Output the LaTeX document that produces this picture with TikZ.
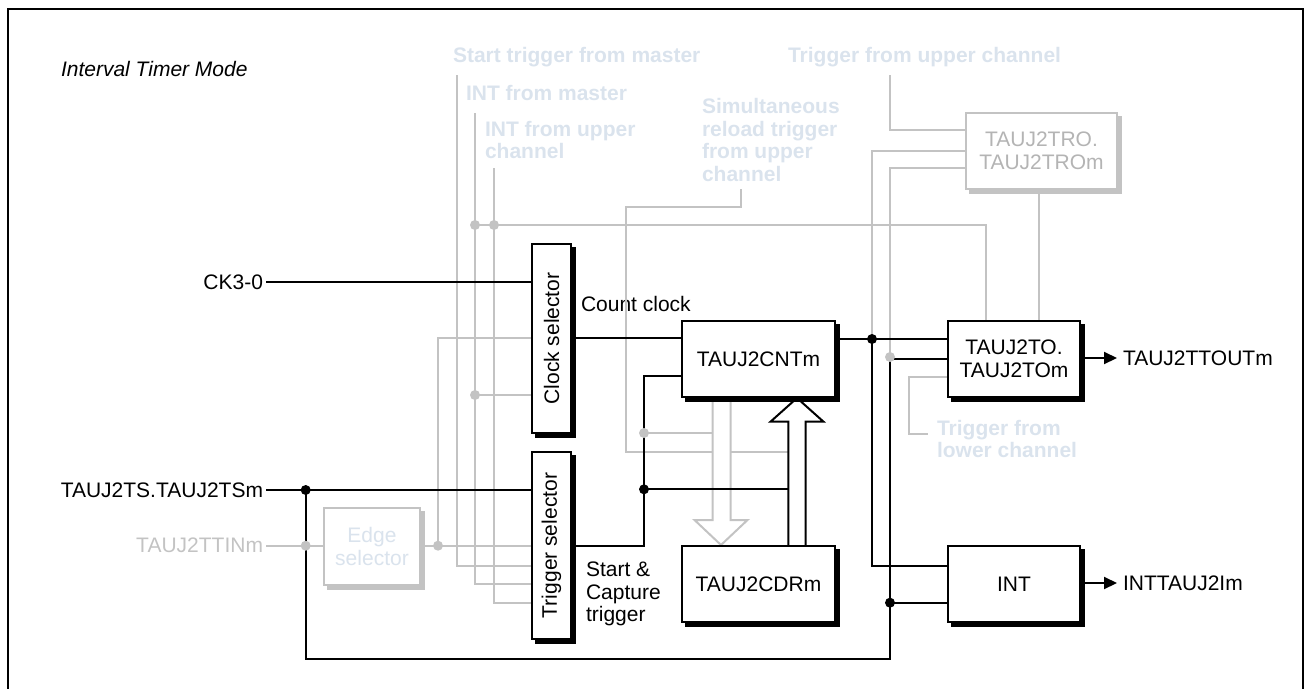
\documentclass[tikz,border=0pt]{standalone}
\usepackage{fontspec}
\setmainfont{Liberation Sans}
\usetikzlibrary{shadows,arrows.meta}
\definecolor{wire}{HTML}{C3C3C3}
\definecolor{faint}{HTML}{DAE3ED}
\definecolor{grtext}{HTML}{B4B4B4}
\begin{document}
\begin{tikzpicture}[x=1pt,y=-1pt,
  every node/.style={inner sep=0pt, outer sep=0pt, font=\fontsize{21}{23}\selectfont},
  bw/.style={line width=2pt, black},
  gw/.style={line width=2pt, wire},
  blk/.style={draw=black, line width=2pt, fill=white, align=center,
     general shadow={fill=black, draw=black, line width=2pt, shadow xshift=3.5pt, shadow yshift=-3.5pt}},
  gbx/.style={draw=wire, line width=2pt, fill=white, align=center,
     general shadow={fill=wire, draw=wire, line width=2pt, shadow xshift=3.5pt, shadow yshift=-3.5pt}},
  lab/.style={anchor=base west},
  flab/.style={anchor=base west, text=faint, font=\fontsize{21}{23}\selectfont\bfseries},
  bdot/.style={circle, fill=black, minimum size=10pt},
  gdot/.style={circle, fill=wire, minimum size=10pt},
  outarrow/.style={bw, -{Triangle[length=13pt,width=12pt]}},
]
\useasboundingbox (0,0) rectangle (1311,688);
% frame
\draw[line width=2pt] (8,690) -- (8,8.5) -- (1303,8.5) -- (1303,690);

% ---------- labels (outside boxes) ----------
\node[lab, font=\fontsize{21}{23}\selectfont\itshape] (title) at (61,76) {Interval Timer Mode};
\node[flab] (stm) at (453,62.5) {Start trigger from master};
\node[flab] (tuc) at (788,62.5) {Trigger from upper channel};
\node[flab] (ifm) at (466,100) {INT from master};
\node[flab] (iuc1) at (485,136) {INT from upper};
\node[flab] (iuc2) at (485,158) {channel};
\node[flab] (sim1) at (702,113.5) {Simultaneous};
\node[flab] (sim2) at (702,136) {reload trigger};
\node[flab] (sim3) at (702,158.7) {from upper};
\node[flab] (sim4) at (702,181.5) {channel};
\node[flab] (tlc1) at (937,435) {Trigger from};
\node[flab] (tlc2) at (937,457) {lower channel};
\node[lab] (ccl) at (581,311) {Count clock};
\node[lab] (sc1) at (586,576.7) {Start \&};
\node[lab] (sc2) at (586,599.3) {Capture};
\node[lab] (sc3) at (586,621.7) {trigger};

\node[anchor=east, inner xsep=3pt] (ck) at (266,282) {CK3-0};
\node[anchor=east, inner xsep=3pt] (ts) at (266,490) {TAUJ2TS.TAUJ2TSm};
\node[anchor=east, inner xsep=3pt, text=wire] (ttin) at (266,545.7) {TAUJ2TTINm};
\node[anchor=west, inner xsep=6pt] (tto) at (1117,358) {TAUJ2TTOUTm};
\node[anchor=west, inner xsep=6pt] (intl) at (1117,583) {INTTAUJ2Im};

% ---------- grey wires ----------
\draw[gw] (456.7,75) |- (532,565.7);
\draw[gw] (475,113) |- (532,584);
\draw[gw] (494,168) |- (532,603.3);
\draw[gw] (475,225) -| (986,321);
\draw[gw] (475,395) -- (532,395);
\draw[gw] (ttin.east) -- (324,545.7);
\draw[gw] (420,545.7) -- (532,545.7);
\draw[gw] (438,545.7) |- (532,337.7);
\draw[gw] (741,189) |- (626,207) |- (788.3,452);
\draw[gw] (644,433) -- (712.7,433);
\draw[gw] (890,75) |- (966,130);
\draw[gw] (966,150.7) -| (872,339);
\draw[gw] (966,168) -| (890,357);
\draw[gw] (1039,189) -- (1039,321);
\draw[gw] (948,376.7) -| (909,434) -- (928,434);
\foreach \p in {(475,225),(494,225),(475,395),(438,545.7)} \node[gdot] at \p {};

% grey hollow arrow CNT -> CDR
\draw[gw, fill=white] (712.7,397) -- (712.7,520) -- (694.5,520) -- (721,545) -- (747.5,520) -- (730.7,520) -- (730.7,397);

% ---------- black wires ----------
\draw[bw] (ck.east) -- (532,282);
\draw[bw] (ts.east) -- (532,490);
\draw[bw] (571,337.7) -- (682,337.7);
\draw[bw] (571,545.7) -| (644,376) -- (682,376);
\draw[bw] (644,489.3) -- (788.3,489.3);
\draw[bw] (835,339) -- (948,339);
\draw[bw] (872,339) |- (948,565.7);
\draw[bw] (305.7,490) |- (890,659) |- (948,359);
\draw[bw] (890,602.7) -- (948,602.7);
\foreach \p in {(305.7,490),(644,489.3),(872,339),(890,602.7)} \node[bdot] at \p {};
\foreach \p in {(305.7,545.7),(644,433),(890,357)} \node[gdot] at \p {};

% black hollow arrow CDR -> CNT
\draw[bw, fill=white] (788.3,546) -- (788.3,421.7) -- (770.5,421.7) -- (797,398) -- (823.5,421.7) -- (805.7,421.7) -- (805.7,546);

% ---------- boxes ----------
\node[blk, minimum width=39pt, minimum height=189pt] (clk) at (551.5,338.5) {};
\node[rotate=90] (clkt) at (clk.center) {Clock selector};
\node[blk, minimum width=39pt, minimum height=187pt] (trg) at (551.5,545.5) {};
\node[rotate=90] (trgt) at (trg.center) {Trigger selector};
\node[blk, minimum width=153pt, minimum height=76pt] (cnt) at (758.5,359) {TAUJ2CNTm};
\node[blk, minimum width=153pt, minimum height=76pt] (cdr) at (758.5,584) {TAUJ2CDRm};
\node[blk, minimum width=132pt, minimum height=76pt] (tob) at (1014,359) {TAUJ2TO.\\TAUJ2TOm};
\node[blk, minimum width=132pt, minimum height=76pt] (intb) at (1014,584) {INT};
\node[gbx, minimum width=151pt, minimum height=76pt, text=grtext] (tro) at (1041.5,151) {TAUJ2TRO.\\TAUJ2TROm};
\node[gbx, minimum width=96pt, minimum height=77pt, text=faint] (edge) at (372,546.5) {Edge\\selector};

% output arrows
\draw[outarrow] (tob.east |- tto.west) -- (tto.west);
\draw[outarrow] (intb.east |- intl.west) -- (intl.west);
\end{tikzpicture}
\end{document}
